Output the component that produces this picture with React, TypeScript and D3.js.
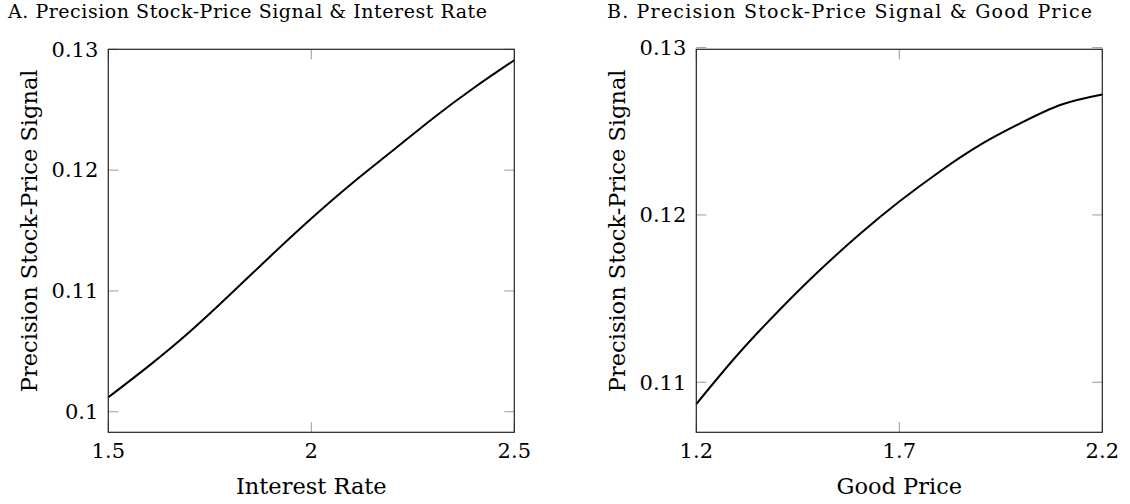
import * as d3 from "d3";

// panel A: precision vs interest rate
const rateX = [1.5, 1.6, 1.7, 1.8, 1.9, 2.0, 2.1, 2.2, 2.3, 2.4, 2.5];
const rateY = [0.1012, 0.1038, 0.1066, 0.1097, 0.1129, 0.1160, 0.1189, 0.1216, 0.1243, 0.1268, 0.1291];
const rateXTicks = [1.5, 2, 2.5];
const rateYTicks = [0.1, 0.11, 0.12, 0.13];

// panel B: precision vs good price
const priceX = [1.2, 1.3, 1.4, 1.5, 1.6, 1.7, 1.8, 1.9, 2.0, 2.1, 2.2];
const priceY = [0.1087, 0.1116, 0.1142, 0.1166, 0.1188, 0.1208, 0.1226, 0.1242, 0.1255, 0.1266, 0.1272];
const priceXTicks = [1.2, 1.7, 2.2];
const priceYTicks = [0.11, 0.12, 0.13];

const FONT = "'DejaVu Serif', serif";

type PanelProps = {
  left: number;
  title: string;
  titleX: number;
  titleW: number;
  xLabel: string;
  xs: number[];
  ys: number[];
  xDomain: [number, number];
  yDomain: [number, number];
  xTicks: number[];
  yTicks: number[];
};

function Panel({ left, title, titleX, titleW, xLabel, xs, ys, xDomain, yDomain, xTicks, yTicks }: PanelProps) {
  const top = 49.3;
  const bottom = 432.3;
  const width = 406;
  const x = d3.scaleLinear().domain(xDomain).range([left, left + width]);
  const y = d3.scaleLinear().domain(yDomain).range([bottom, top]);
  const pts = xs.map((v, i) => [v, ys[i]] as [number, number]);
  const line = d3.line<[number, number]>().x(d => x(d[0])).y(d => y(d[1])).curve(d3.curveNatural);
  const tickLen = 10;
  const tickColor = "#999";

  return (
    <g>
      <text x={titleX} y={18} fontFamily={FONT} fontSize={19} textLength={titleW} lengthAdjust="spacing" fill="#000">
        {title}
      </text>

      {/* ticks */}
      {yTicks.map(t => (
        <g key={"y" + t}>
          <line x1={left} x2={left + tickLen} y1={y(t)} y2={y(t)} stroke={tickColor} strokeWidth={1} />
          <line x1={left + width - tickLen} x2={left + width} y1={y(t)} y2={y(t)} stroke={tickColor} strokeWidth={1} />
          <text x={left - 10} y={y(t)} dy="0.35em" textAnchor="end" fontFamily={FONT} fontSize={21}>{String(t)}</text>
        </g>
      ))}
      {xTicks.map(t => (
        <g key={"x" + t}>
          <line x1={x(t)} x2={x(t)} y1={bottom} y2={bottom - tickLen} stroke={tickColor} strokeWidth={1} />
          <line x1={x(t)} x2={x(t)} y1={top} y2={top + tickLen} stroke={tickColor} strokeWidth={1} />
          <text x={x(t)} y={458} textAnchor="middle" fontFamily={FONT} fontSize={21}>{String(t)}</text>
        </g>
      ))}

      <path d={line(pts) ?? ""} fill="none" stroke="#000" strokeWidth={2} />

      <rect x={left} y={top} width={width} height={bottom - top} fill="none" stroke="#222" strokeWidth={1.2} />

      <text x={left + width / 2} y={494} textAnchor="middle" fontFamily={FONT} fontSize={22.5}>{xLabel}</text>
      <text
        transform={`translate(${left - 71},${(top + bottom) / 2 - 10}) rotate(-90)`}
        textAnchor="middle"
        fontFamily={FONT}
        fontSize={22.5}
      >
        Precision Stock-Price Signal
      </text>
    </g>
  );
}

export default function App() {
  return (
    <svg width={1130} height={504} style={{ position: "absolute", left: 0, top: 0, background: "#fff" }}>
      <Panel
        left={108.3}
        title="A. Precision Stock-Price Signal & Interest Rate"
        titleX={8}
        titleW={479}
        xLabel="Interest Rate"
        xs={rateX}
        ys={rateY}
        xDomain={[1.5, 2.5]}
        yDomain={[0.0983, 0.13]}
        xTicks={rateXTicks}
        yTicks={rateYTicks}
      />
      <Panel
        left={696.3}
        title="B. Precision Stock-Price Signal & Good Price"
        titleX={607}
        titleW={485}
        xLabel="Good Price"
        xs={priceX}
        ys={priceY}
        xDomain={[1.2, 2.2]}
        yDomain={[0.10701, 0.1299]}
        xTicks={priceXTicks}
        yTicks={priceYTicks}
      />
    </svg>
  );
}
